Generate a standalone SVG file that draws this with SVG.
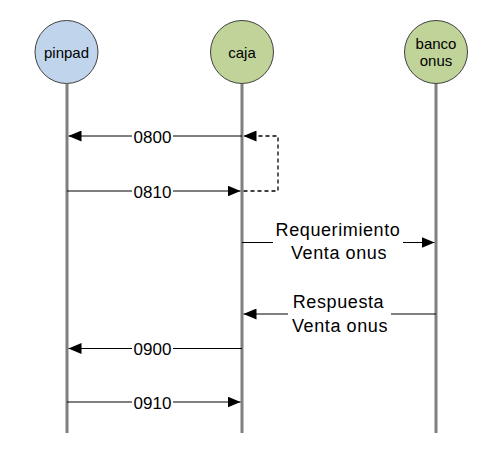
<svg xmlns="http://www.w3.org/2000/svg" width="504" height="449" viewBox="0 0 504 449">
<style>
.life{stroke:#808080;stroke-width:3;fill:none}
.node{stroke:#404040;stroke-width:1}
.nt{font-family:"Liberation Sans",Arial,sans-serif;font-size:15px;fill:#000;text-anchor:middle}
.msg{stroke:#000;stroke-width:1;fill:none}
.dash{stroke:#000;stroke-width:1.3;fill:none;stroke-dasharray:4,3}
.lbl{font-family:"Liberation Sans",Arial,sans-serif;font-size:17px;fill:#000;text-anchor:middle}
.lbl2{font-family:"Liberation Sans",Arial,sans-serif;font-size:18px;letter-spacing:0.6px;fill:#000;text-anchor:middle}
.bg{fill:#fff}
</style>
<defs>
<marker id="ah" viewBox="0 0 13 11" refX="13" refY="5.5" markerWidth="13" markerHeight="11" markerUnits="userSpaceOnUse" orient="auto">
<path d="M0,0 L13,5.5 L0,11 Z" fill="#000"/>
</marker>
</defs>
<rect width="504" height="449" fill="#fff"/>
<g id="lifelines">
<line class="life" x1="67" y1="84" x2="67" y2="433"/>
<line class="life" x1="242" y1="84" x2="242" y2="433"/>
<line class="life" x1="436" y1="84" x2="436" y2="433"/>
</g>
<g id="pinpad">
<circle class="node" cx="66.5" cy="52" r="31.5" fill="#c0d4ec"/>
<text class="nt" x="66.5" y="57.5">pinpad</text>
</g>
<g id="caja">
<circle class="node" cx="242" cy="52" r="31.5" fill="#c0d49a"/>
<text class="nt" x="242" y="57.5">caja</text>
</g>
<g id="banco">
<circle class="node" cx="436" cy="52" r="31.5" fill="#c0d49a"/>
<text class="nt" x="436" y="48.5">banco</text>
<text class="nt" x="436" y="66">onus</text>
</g>
<g id="connectors">
<line class="msg" x1="242" y1="136" x2="68.5" y2="136" marker-end="url(#ah)"/>
<rect class="bg" x="132" y="127" width="41" height="18"/>
<text class="lbl" x="152.5" y="142.5">0800</text>
<line class="msg" x1="67" y1="191" x2="240.5" y2="191" marker-end="url(#ah)"/>
<rect class="bg" x="132" y="182" width="41" height="18"/>
<text class="lbl" x="152.5" y="197.5">0810</text>
<polyline class="dash" points="243.5,191 278,191 278,136 243.5,136" marker-end="url(#ah)"/>
<line class="msg" x1="242" y1="242.5" x2="434.5" y2="242.5" marker-end="url(#ah)"/>
<rect class="bg" x="273" y="220" width="130" height="42"/>
<text class="lbl2" x="338" y="236">Requerimiento</text>
<text class="lbl2" x="339" y="259">Venta onus</text>
<line class="msg" x1="436" y1="314" x2="243.5" y2="314" marker-end="url(#ah)"/>
<rect class="bg" x="288" y="292" width="103" height="42"/>
<text class="lbl2" x="338.5" y="308">Respuesta</text>
<text class="lbl2" x="340" y="331.5">Venta onus</text>
<line class="msg" x1="242" y1="348.5" x2="68.5" y2="348.5" marker-end="url(#ah)"/>
<rect class="bg" x="132" y="339" width="41" height="18"/>
<text class="lbl" x="152.5" y="355">0900</text>
<line class="msg" x1="67" y1="402" x2="240.5" y2="402" marker-end="url(#ah)"/>
<rect class="bg" x="132" y="393" width="41" height="18"/>
<text class="lbl" x="152.5" y="408.5">0910</text>
</g>
</svg>
